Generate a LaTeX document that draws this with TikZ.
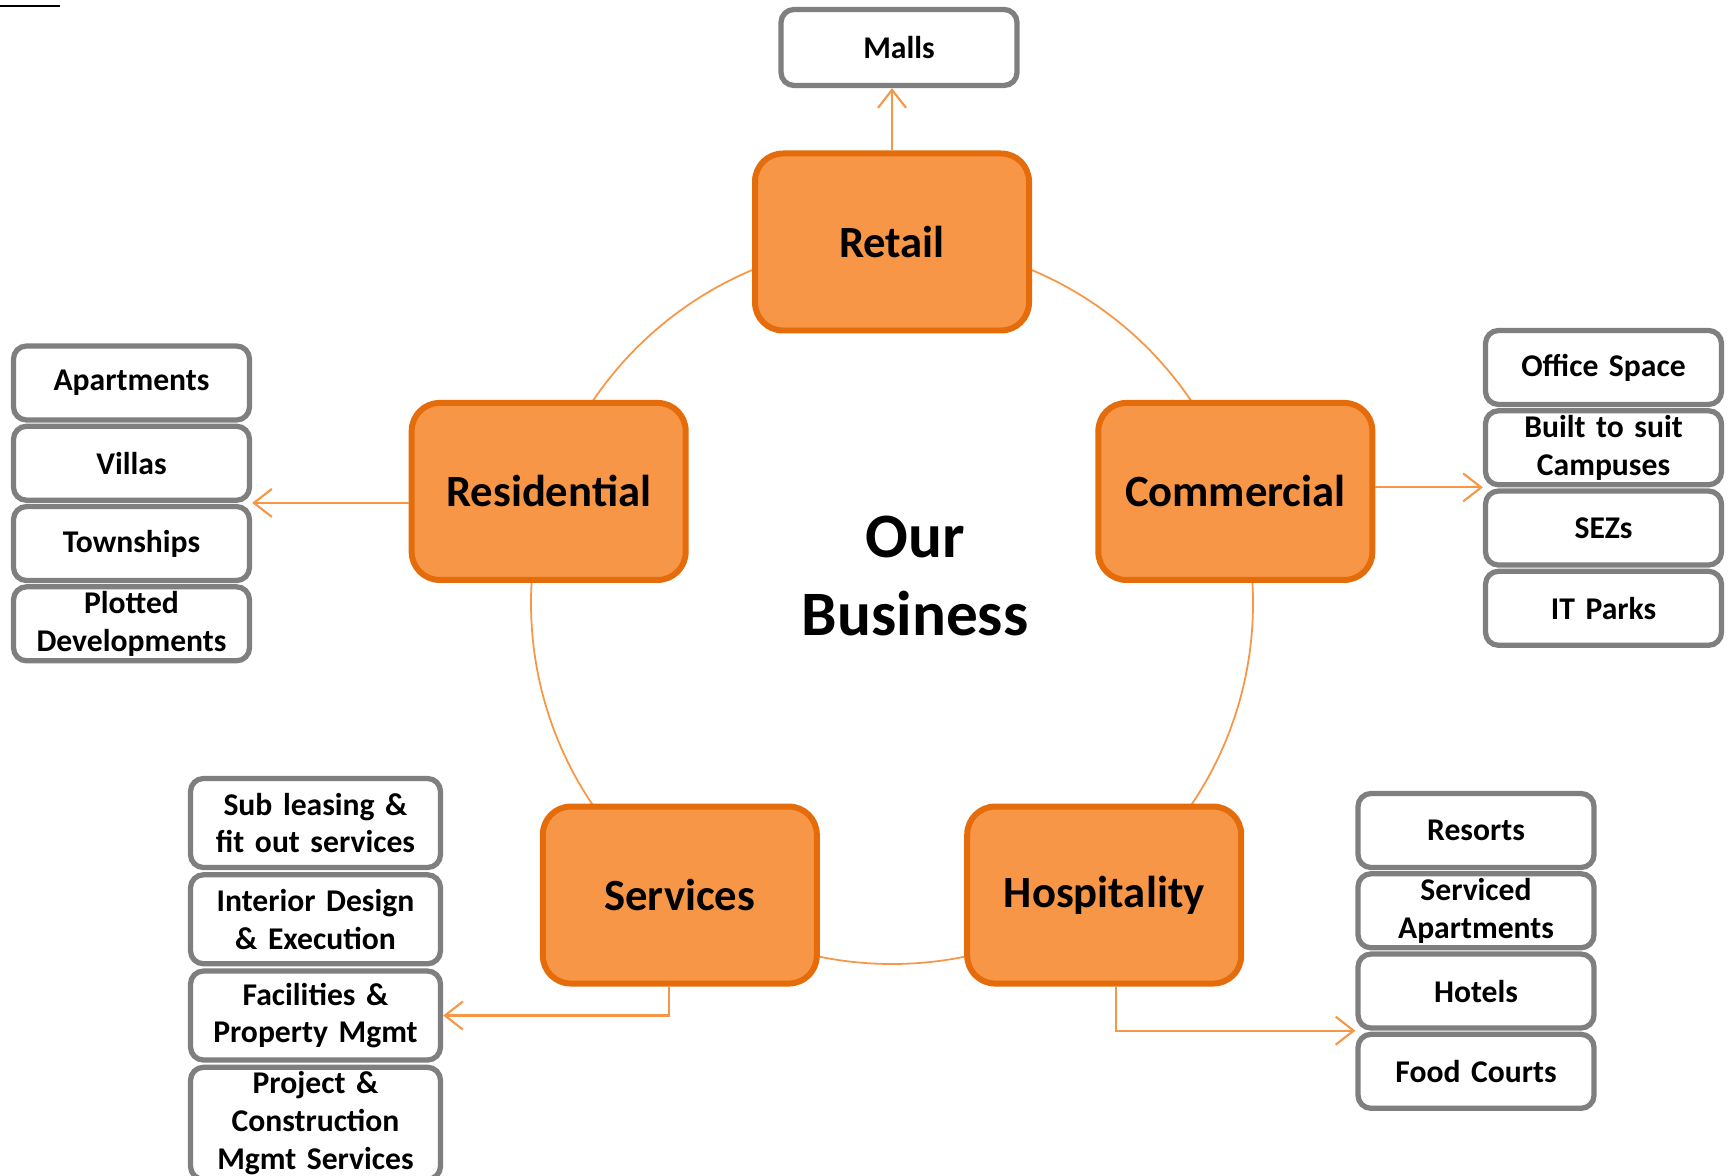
\documentclass[tikz,border=0pt]{standalone}
\usepackage{fontspec}
\setmainfont{Carlito}
\usetikzlibrary{positioning,arrows.meta}
\definecolor{bizorange}{HTML}{F79646}
\definecolor{bizdark}{HTML}{E46C0A}
\definecolor{bizgrey}{HTML}{7F7F7F}
\tikzset{main node/.style={rectangle,rounded corners=0.28cm,fill=bizorange,draw=bizdark,line width=1.7pt,minimum width=2.74cm,minimum height=1.77cm,font=\fontsize{12.7}{15}\selectfont\bfseries},
  sub node/.style={rectangle,rounded corners=0.13cm,fill=white,draw=bizgrey,line width=1.5pt,minimum width=2.36cm,minimum height=0.74cm,inner sep=0pt,text width=2.3cm,align=center,font=\fontsize{9}{10.8}\selectfont\bfseries},
  serv node/.style={sub node,minimum width=2.5cm,minimum height=0.89cm,text width=2.45cm},
  ring/.style={draw=bizorange,line width=0.5pt},
  link/.style={draw=bizorange,line width=0.6pt,-{Straight Barb[length=1.8mm,width=2.8mm]}},}

\begin{document}
\begin{tikzpicture}
      \clip (0,0) rectangle (17.33,11.75);
      \draw[line width=0.6pt] (0,11.69) -- (0.6,11.69);

      % ring and the five business lines
      \coordinate (c) at (8.92,5.72);
      \draw[ring] (c) circle (3.61);

      \node[main node] (retail) at ([shift={(90:3.61)}]c) {Retail};
      \node[main node] (res) at ([shift={(162:3.61)}]c) {Residential};
      \node[main node] (com) at ([shift={(18:3.61)}]c) {Commercial};
      \node[main node] (serv) at ([shift={(234:3.61)}]c) {Services};
      \node[main node] (hosp) at ([shift={(306:3.61)}]c) {Hospitality};

      \node[font=\fontsize{18}{22}\selectfont\bfseries,align=center] (our) at (9.15,5.99) {Our\\Business};

      % retail
      \node[sub node,minimum height=0.76cm] (malls) at (8.99,11.275) {Malls};

      % residential
      \node[sub node] (apart) at (1.315,7.92) {Apartments};
      \node[sub node] (villas) [below=0.01cm of apart] {Villas};
      \node[sub node] (towns) [below=0.01cm of villas] {Townships};
      \node[sub node] (plots) [below=0.01cm of towns] {Plotted\\Developments};

      % commercial
      \node[sub node] (office) at (16.035,8.075) {Office Space};
      \node[sub node] (built) [below=0.01cm of office] {Built to suit\\Campuses};
      \node[sub node] (sez) [below=0.01cm of built] {SEZs};
      \node[sub node] (itp) [below=0.01cm of sez] {IT Parks};

      % hospitality
      \node[sub node] (resorts) at (14.76,3.445) {Resorts};
      \node[sub node] (servapt) [below=0.01cm of resorts] {Serviced\\Apartments};
      \node[sub node] (hotels) [below=0.01cm of servapt] {Hotels};
      \node[sub node] (food) [below=0.01cm of hotels] {Food Courts};

      % services
      \node[serv node] (lease) at (3.155,3.52) {Sub leasing \&\\fit out services};
      \node[serv node] (interior) [below=0.02cm of lease] {Interior Design\\\& Execution};
      \node[serv node] (facil) [below=0.02cm of interior] {Facilities \&\\Property Mgmt};
      \node[serv node,minimum height=1.12cm] (project) [below=0.02cm of facil] {Project \&\\Construction\\Mgmt Services};

      \draw[link] (retail.north) -- (retail.north |- malls.south);
      \draw[link] (res.west |- villas.south east) -- (villas.south east);
      \draw[link] (com.east |- built.south west) -- (built.south west);
      \draw[link] ([xshift=-0.11cm]serv.south) |- (facil.east);
      \draw[link] ([xshift=0.12cm]hosp.south) |- (hotels.south west);

    \end{tikzpicture}
\end{document}
